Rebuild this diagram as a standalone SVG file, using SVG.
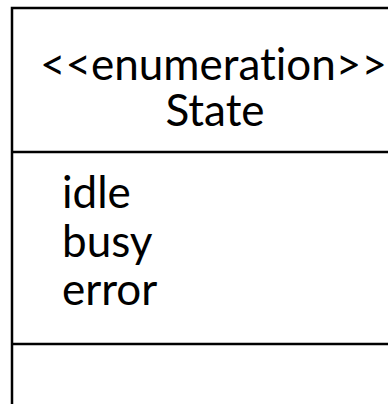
<svg xmlns="http://www.w3.org/2000/svg" width="388" height="404" viewBox="0 0 388 404">
  <style>
    .frame { fill: #ffffff; stroke: #000000; stroke-width: 2.5; }
    .rule { stroke: #000000; stroke-width: 2.5; }
    .label { font-family: "Lato", "Open Sans", sans-serif; font-size: 44px; fill: #000000; font-variant-ligatures: none; font-feature-settings: "liga" 0, "clig" 0; }
  </style>
  <rect width="388" height="404" fill="#ffffff"/>
  <!-- Enumeration class box: header, literals, empty operations compartment -->
  <g id="state-enum">
    <rect class="frame" x="12" y="8" width="420" height="420"/>
    <line class="rule" x1="12" y1="152" x2="400" y2="152"/>
    <line class="rule" x1="12" y1="344" x2="400" y2="344"/>
    <text class="label" x="40" y="80">&lt;&lt;enumeration&gt;&gt;</text>
    <text class="label" x="215" y="126" text-anchor="middle">State</text>
    <text class="label" x="62" y="208">idle</text>
    <text class="label" x="62" y="257">busy</text>
    <text class="label" x="62" y="305">error</text>
  </g>
  <g id="connectors"/>
</svg>
